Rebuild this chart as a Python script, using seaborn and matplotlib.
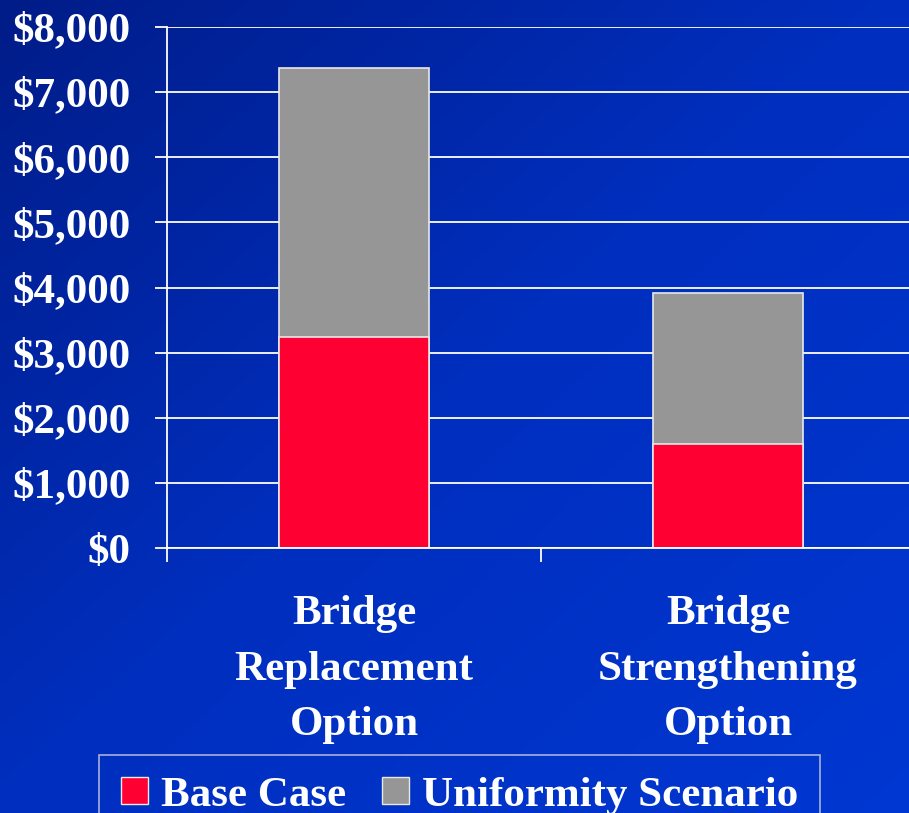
import numpy as np
import pandas as pd
import seaborn as sns
import matplotlib.pyplot as plt
from matplotlib.patches import Patch
from matplotlib.colors import LinearSegmentedColormap

# chart values
options = ["Bridge\nReplacement\nOption", "Bridge\nStrengthening\nOption"]
base_case = [3240, 1590]
uniformity = [4130, 2330]
y_ticks = [0, 1000, 2000, 3000, 4000, 5000, 6000, 7000, 8000]
y_labels = ["$0", "$1,000", "$2,000", "$3,000", "$4,000", "$5,000", "$6,000", "$7,000", "$8,000"]

df = pd.DataFrame({"option": options, "base": base_case, "unif": uniformity})
df["total"] = df["base"] + df["unif"]

sns.set_style("white")
plt.rcParams["font.family"] = ["Liberation Serif", "DejaVu Serif"]
plt.rcParams["font.weight"] = "bold"
FS = 31

fig = plt.figure(figsize=(9.09, 8.13), dpi=100)

# blue gradient background
bg = fig.add_axes([0, 0, 1, 1])
gx, gy = np.meshgrid(np.linspace(0, 1, 300), np.linspace(0, 1, 300))
grad = (gx + gy) / 2
cmap = LinearSegmentedColormap.from_list("bg", ["#001c88", "#002fbf", "#0037d2"])
bg.imshow(grad, cmap=cmap, aspect="auto", extent=[0, 1, 0, 1], origin="upper")
bg.axis("off")

ax = fig.add_axes([167 / 909, 1 - 548 / 813, 748 / 909, 521 / 813])
ax.patch.set_alpha(0)

sns.barplot(data=df, x="option", y="total", color="#969696", width=0.4,
            edgecolor="#e8e8e8", linewidth=1.2, saturation=1, ax=ax)
sns.barplot(data=df, x="option", y="base", color="#ff0033", width=0.4,
            edgecolor="#e8e8e8", linewidth=1.2, saturation=1, ax=ax)

ax.set_xlim(-0.5, 1.5)
ax.set_ylim(0, 8000)
ax.set_yticks(y_ticks)
ax.set_yticklabels(y_labels)
ax.set_axisbelow(True)
ax.yaxis.grid(True, color="white", linewidth=1.3)
ax.xaxis.grid(False)
ax.set_xlabel("")
ax.set_ylabel("")

for s in ["top", "right"]:
    ax.spines[s].set_visible(False)
for s in ["left", "bottom"]:
    ax.spines[s].set_color("white")
    ax.spines[s].set_linewidth(1.3)

ax.tick_params(axis="y", colors="white", labelsize=FS, length=9, width=1.3,
               direction="out", pad=17, left=True)
ax.tick_params(axis="x", colors="white", labelsize=FS, length=0, pad=34)
ax.set_xticks([-0.5, 0.5], minor=True)
ax.tick_params(axis="x", which="minor", length=10, width=1.3, color="white", bottom=True)
for lbl in ax.get_xticklabels():
    lbl.set_linespacing(1.6)
    lbl.set_fontweight("bold")
for lbl in ax.get_yticklabels():
    lbl.set_fontweight("bold")

handles = [Patch(facecolor="#ff0033", edgecolor="#e8e8e8", label="Base Case"),
           Patch(facecolor="#969696", edgecolor="#e8e8e8", label="Uniformity Scenario")]
leg = fig.legend(handles=handles, loc="upper left", bbox_to_anchor=(99 / 909, 1 - 755 / 813),
                 ncol=2, frameon=True, fancybox=False,
                 prop={"weight": "bold", "size": FS},
                 handlelength=0.63, handleheight=0.61, handletextpad=0.3,
                 columnspacing=0.85, borderpad=0.5, borderaxespad=0)
leg.get_frame().set_facecolor("none")
leg.get_frame().set_edgecolor("#d0d0e0")
leg.get_frame().set_linewidth(1.2)
for t in leg.get_texts():
    t.set_color("white")

fig.savefig("out.png", dpi=100)
